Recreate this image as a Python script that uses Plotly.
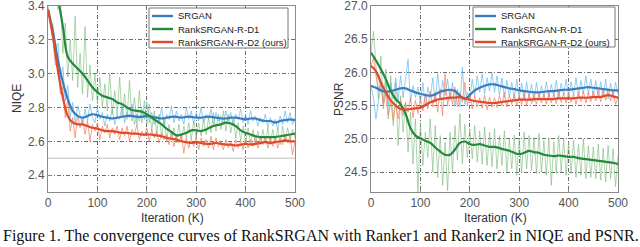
import plotly.graph_objects as go

# ---------------- data ----------------
ITER_SMOOTH = list(range(0, 501, 10))
ITER_RAW = list(range(0, 501, 5))

NIQE_SRGAN = [3.38, 3.25, 3.08, 2.95, 2.85, 2.78, 2.75, 2.74, 2.75, 2.76,
              2.755, 2.745, 2.74, 2.735, 2.74, 2.745, 2.75, 2.75, 2.745, 2.745,
              2.75, 2.745, 2.74, 2.735, 2.74, 2.745, 2.745, 2.74, 2.745, 2.745,
              2.74, 2.74, 2.745, 2.745, 2.74, 2.735, 2.735, 2.74, 2.74, 2.735,
              2.73, 2.735, 2.735, 2.725, 2.72, 2.72, 2.71, 2.72, 2.725, 2.73,
              2.725]
NIQE_D1 = [3.75, 3.6, 3.45, 3.28, 3.10, 3.06, 3.03, 3.0, 2.96, 2.92,
           2.89, 2.87, 2.86, 2.85, 2.83, 2.82, 2.80, 2.785, 2.78, 2.775,
           2.76, 2.74, 2.72, 2.70, 2.675, 2.655, 2.635, 2.64, 2.65, 2.665,
           2.665, 2.66, 2.67, 2.685, 2.695, 2.70, 2.71, 2.705, 2.69, 2.665,
           2.65, 2.64, 2.63, 2.625, 2.625, 2.625, 2.625, 2.63, 2.635, 2.64,
           2.645]
NIQE_D2 = [3.38, 3.22, 3.02, 2.86, 2.75, 2.71, 2.70, 2.70, 2.69, 2.68,
           2.675, 2.665, 2.66, 2.66, 2.655, 2.65, 2.65, 2.645, 2.645, 2.64,
           2.64, 2.64, 2.635, 2.63, 2.62, 2.615, 2.61, 2.60, 2.595, 2.59,
           2.595, 2.59, 2.585, 2.585, 2.59, 2.585, 2.58, 2.58, 2.575, 2.58,
           2.585, 2.58, 2.585, 2.59, 2.595, 2.59, 2.595, 2.60, 2.605, 2.60,
           2.60]

NIQE_SRGAN_RAW = [3.40, 3.31, 3.29, 3.12, 3.18, 2.97, 3.04, 2.84, 2.93, 2.74,
                  2.83, 2.70, 2.81, 2.76, 2.70, 2.79, 2.72, 2.82, 2.74, 2.71,
                  2.80, 2.73, 2.77, 2.69, 2.76, 2.72, 2.79, 2.70, 2.75, 2.73,
                  2.81, 2.71, 2.77, 2.74, 2.82, 2.70, 2.76, 2.72, 2.79, 2.73,
                  2.83, 2.71, 2.77, 2.70, 2.75, 2.72, 2.80, 2.69, 2.76, 2.73,
                  2.81, 2.71, 2.78, 2.72, 2.76, 2.70, 2.80, 2.73, 2.78, 2.70,
                  2.77, 2.72, 2.80, 2.71, 2.76, 2.73, 2.79, 2.70, 2.77, 2.72,
                  2.75, 2.70, 2.78, 2.72, 2.77, 2.69, 2.76, 2.73, 2.79, 2.71,
                  2.76, 2.70, 2.78, 2.72, 2.75, 2.69, 2.74, 2.71, 2.76, 2.68,
                  2.74, 2.69, 2.73, 2.67, 2.75, 2.70, 2.78, 2.71, 2.77, 2.70,
                  2.74]
NIQE_D1_RAW = [3.80, 3.70, 3.55, 3.48, 3.38, 3.46, 3.12, 3.30, 2.98, 3.20,
               2.96, 3.34, 2.92, 3.12, 2.88, 3.28, 2.86, 3.05, 2.84, 3.00,
               2.82, 2.98, 2.80, 2.94, 2.78, 3.00, 2.76, 2.90, 2.75, 2.98,
               2.74, 2.88, 2.73, 2.96, 2.72, 2.86, 2.70, 2.90, 2.71, 2.84,
               2.70, 2.82, 2.66, 2.78, 2.64, 2.76, 2.62, 2.74, 2.60, 2.70,
               2.61, 2.68, 2.59, 2.70, 2.60, 2.69, 2.62, 2.71, 2.61, 2.72,
               2.62, 2.71, 2.63, 2.73, 2.64, 2.74, 2.65, 2.77, 2.66, 2.76,
               2.67, 2.78, 2.66, 2.76, 2.65, 2.74, 2.62, 2.71, 2.60, 2.69,
               2.59, 2.68, 2.58, 2.67, 2.59, 2.66, 2.58, 2.67, 2.59, 2.68,
               2.58, 2.67, 2.59, 2.68, 2.58, 2.69, 2.60, 2.68, 2.61, 2.67,
               2.62]
NIQE_D2_RAW = [3.38, 3.28, 3.20, 3.05, 3.08, 2.88, 2.92, 2.74, 2.85, 2.66,
               2.74, 2.62, 2.76, 2.68, 2.73, 2.64, 2.72, 2.60, 2.70, 2.66,
               2.71, 2.61, 2.69, 2.65, 2.70, 2.62, 2.68, 2.64, 2.69, 2.61,
               2.68, 2.63, 2.69, 2.60, 2.67, 2.64, 2.70, 2.61, 2.66, 2.63,
               2.68, 2.60, 2.67, 2.62, 2.66, 2.59, 2.65, 2.61, 2.64, 2.58,
               2.65, 2.57, 2.63, 2.59, 2.64, 2.53, 2.62, 2.56, 2.61, 2.57,
               2.63, 2.55, 2.62, 2.57, 2.61, 2.56, 2.63, 2.55, 2.62, 2.57,
               2.60, 2.55, 2.61, 2.56, 2.60, 2.54, 2.61, 2.56, 2.60, 2.55,
               2.62, 2.56, 2.61, 2.57, 2.63, 2.56, 2.62, 2.58, 2.63, 2.56,
               2.62, 2.57, 2.63, 2.56, 2.62, 2.58, 2.64, 2.59, 2.63, 2.52,
               2.60]

PSNR_SRGAN = [25.80, 25.77, 25.73, 25.71, 25.72, 25.74, 25.76, 25.76, 25.73, 25.70,
              25.68, 25.66, 25.65, 25.67, 25.71, 25.73, 25.74, 25.72, 25.65, 25.60,
              25.66, 25.73, 25.77, 25.80, 25.82, 25.82, 25.80, 25.78, 25.76, 25.75,
              25.73, 25.72, 25.71, 25.70, 25.70, 25.71, 25.72, 25.72, 25.73, 25.74,
              25.74, 25.75, 25.76, 25.77, 25.78, 25.77, 25.76, 25.75, 25.74, 25.73,
              25.73]
PSNR_D1 = [26.30, 26.18, 26.05, 25.90, 25.72, 25.60, 25.52, 25.38, 25.16, 25.05,
           25.01, 24.97, 24.94, 24.87, 24.81, 24.76, 24.76, 24.84, 24.94, 24.96,
           24.92, 24.91, 24.92, 24.90, 24.88, 24.88, 24.86, 24.84, 24.82, 24.79,
           24.77, 24.79, 24.82, 24.80, 24.79, 24.76, 24.75, 24.74, 24.75, 24.74,
           24.73, 24.73, 24.71, 24.70, 24.69, 24.68, 24.67, 24.66, 24.65, 24.64,
           24.62]
PSNR_D2 = [26.10, 26.02, 25.85, 25.70, 25.58, 25.50, 25.45, 25.44, 25.45, 25.46,
           25.47, 25.51, 25.55, 25.58, 25.60, 25.61, 25.62, 25.62, 25.63, 25.61,
           25.59, 25.57, 25.56, 25.55, 25.54, 25.54, 25.55, 25.56, 25.57, 25.58,
           25.59, 25.59, 25.59, 25.60, 25.60, 25.60, 25.60, 25.60, 25.61, 25.61,
           25.61, 25.61, 25.62, 25.62, 25.62, 25.63, 25.63, 25.64, 25.66, 25.64,
           25.62]

PSNR_SRGAN_RAW = [25.80, 25.62, 25.30, 25.58, 25.82, 25.55, 25.88, 25.50, 25.85, 25.60,
                  25.92, 25.58, 25.95, 25.62, 25.88, 26.20, 25.55, 25.80, 25.62, 25.78,
                  25.55, 25.85, 25.48, 25.78, 25.62, 25.92, 25.55, 25.98, 25.60, 25.88,
                  25.65, 25.90, 25.58, 25.85, 25.50, 25.75, 25.48, 26.08, 25.52, 25.70,
                  25.60, 25.90, 25.65, 25.95, 25.70, 25.98, 25.68, 25.92, 25.72, 26.00,
                  25.70, 25.95, 25.66, 25.92, 25.62, 25.88, 25.64, 25.85, 25.60, 25.90,
                  25.62, 25.84, 25.58, 25.86, 25.60, 25.82, 25.56, 25.85, 25.60, 25.80,
                  25.62, 25.86, 25.60, 25.82, 25.64, 25.88, 25.62, 25.84, 25.66, 25.90,
                  25.64, 25.86, 25.66, 25.92, 25.65, 25.88, 25.68, 25.95, 25.66, 25.90,
                  25.64, 25.88, 25.62, 25.86, 25.63, 25.90, 25.60, 25.84, 25.62, 25.85,
                  25.68]
PSNR_D1_RAW = [26.30, 26.62, 26.10, 25.60, 26.25, 25.45, 26.05, 25.30, 25.95, 25.20,
               25.85, 24.90, 25.65, 25.10, 25.55, 24.80, 25.40, 24.62, 25.30, 24.20,
               25.25, 24.60, 25.10, 24.72, 25.30, 24.50, 25.20, 24.42, 25.05, 24.30,
               24.95, 24.22, 25.10, 24.50, 25.20, 24.68, 25.38, 24.62, 25.22, 24.72,
               25.15, 24.70, 25.20, 24.65, 25.12, 24.62, 25.18, 24.60, 25.10, 24.58,
               25.15, 24.55, 25.05, 24.60, 25.12, 24.50, 25.00, 24.55, 25.06, 24.45,
               25.00, 24.50, 25.10, 24.55, 25.05, 24.52, 25.02, 24.48, 25.08, 24.50,
               24.98, 24.45, 25.02, 24.30, 24.95, 24.48, 25.05, 24.50, 25.00, 24.45,
               24.95, 24.48, 24.98, 24.42, 24.92, 24.45, 25.00, 24.40, 24.90, 24.42,
               24.88, 24.40, 24.92, 24.38, 24.86, 24.35, 24.90, 24.40, 24.85, 24.28,
               24.75]
PSNR_D2_RAW = [26.10, 26.22, 25.95, 25.75, 25.82, 25.50, 25.68, 25.35, 25.55, 25.28,
               25.52, 25.30, 25.58, 25.35, 25.55, 25.40, 25.62, 25.32, 25.58, 25.38,
               25.60, 25.42, 25.68, 25.45, 25.72, 25.48, 25.70, 25.40, 25.75, 25.35,
               25.98, 25.50, 25.72, 25.52, 25.78, 25.48, 25.70, 25.55, 25.85, 25.50,
               25.68, 25.45, 25.65, 25.48, 25.62, 25.46, 25.66, 25.44, 25.63, 25.48,
               25.62, 25.47, 25.65, 25.50, 25.70, 25.48, 25.66, 25.52, 25.68, 25.50,
               25.66, 25.52, 25.70, 25.50, 25.68, 25.53, 25.67, 25.52, 25.69, 25.54,
               25.68, 25.52, 25.70, 25.54, 25.68, 25.53, 25.72, 25.55, 25.69, 25.54,
               25.70, 25.55, 25.68, 25.52, 25.71, 25.56, 25.72, 25.54, 25.70, 25.56,
               25.72, 25.57, 25.73, 25.56, 25.74, 25.58, 25.76, 25.57, 25.72, 25.52,
               25.62]

SERIES_NAMES = ["SRGAN", "RankSRGAN-R-D1", "RankSRGAN-R-D2 (ours)"]
X_TICKS = [0, 100, 200, 300, 400, 500]
NIQE_TICKS = [2.4, 2.6, 2.8, 3.0, 3.2, 3.4]
PSNR_TICKS = [24.5, 25.0, 25.5, 26.0, 26.5, 27.0]
NIQE_REF = 2.5
CAPTION = "Figure 1. The convergence curves of RankSRGAN with Ranker1 and Ranker2 in NIQE and PSNR."

# ---------------- style ----------------
DARK = ["#3a7dbf", "#238a3c", "#de4a2a"]
LIGHT = ["rgba(110,190,240,0.75)", "rgba(120,185,120,0.6)", "rgba(245,130,100,0.75)"]
SANS = "Liberation Sans, Arial"

W, H = 640, 247
ml, mr, mt, mb = 48, 22, 6, 55
pw = W - ml - mr
ph = H - mt - mb


def px(x):
    return (x - ml) / pw


def py(y):
    return 1 - (y - mt) / ph


fig = go.Figure()

panels = [
    ("x", "y", [NIQE_SRGAN_RAW, NIQE_D1_RAW, NIQE_D2_RAW], [NIQE_SRGAN, NIQE_D1, NIQE_D2]),
    ("x2", "y2", [PSNR_SRGAN_RAW, PSNR_D1_RAW, PSNR_D2_RAW], [PSNR_SRGAN, PSNR_D1, PSNR_D2]),
]
for xa, ya, raws, smooths in panels:
    for i, r in enumerate(raws):
        fig.add_trace(go.Scatter(x=ITER_RAW, y=r, mode="lines", xaxis=xa, yaxis=ya,
                                 line=dict(color=LIGHT[i], width=1), showlegend=False,
                                 hoverinfo="skip"))
    for i, s in enumerate(smooths):
        fig.add_trace(go.Scatter(x=ITER_SMOOTH, y=s, mode="lines", xaxis=xa, yaxis=ya,
                                 name=SERIES_NAMES[i], showlegend=False,
                                 line=dict(color=DARK[i], width=2.2, shape="spline")))

fig.add_trace(go.Scatter(x=[X_TICKS[0], X_TICKS[-1]], y=[NIQE_REF, NIQE_REF], mode="lines",
                         xaxis="x", yaxis="y", line=dict(color="#d4d4d4", width=1.5),
                         showlegend=False, hoverinfo="skip"))

grid = dict(showgrid=True, gridcolor="rgba(60,60,60,0.75)", gridwidth=1,
            griddash="4px,2px,1px,2px", showline=True, linecolor="#8a8a8a",
            linewidth=1, mirror=True, zeroline=False, ticks="inside", ticklen=3,
            tickcolor="#8a8a8a", automargin=False, ticklabeloverflow="allow",
            tickfont=dict(family=SANS, size=12, color="#555"))

fig.update_layout(
    width=W, height=H, margin=dict(l=ml, r=mr, t=mt, b=mb),
    paper_bgcolor="white", plot_bgcolor="white", showlegend=False,
    xaxis=dict(domain=[0, px(295)], range=[0, 500], tickvals=X_TICKS, anchor="y", **grid),
    yaxis=dict(domain=[0, 1], range=[2.3, 3.4005], tickvals=NIQE_TICKS, tickformat=".1f",
               anchor="x", **grid),
    xaxis2=dict(domain=[px(371), 1], range=[0, 500], tickvals=X_TICKS, anchor="y2", **grid),
    yaxis2=dict(domain=[0, 1], range=[24.2, 27.001], tickvals=PSNR_TICKS, tickformat=".1f",
                anchor="x2", **grid),
)

title_font = dict(family=SANS, size=12, color="#333")
# axis titles
for cx, cy, txt, ang in [(172, 218, "Iteration (K)", 0), (495, 218, "Iteration (K)", 0),
                         (17, 99, "NIQE", -90), (339, 99, "PSNR", -90)]:
    fig.add_annotation(text=txt, xref="paper", yref="paper", x=px(cx), y=py(cy),
                       xanchor="center", yanchor="middle", showarrow=False,
                       textangle=ang, font=title_font)

# legends (drawn box, sample lines and labels)
for (bx0, bx1, by0, by1, lx0, lx1, tx) in [(149, 288, 8, 48, 152, 173, 176),
                                          (473, 615, 7, 47, 475, 496, 499)]:
    fig.add_shape(type="rect", xref="paper", yref="paper", x0=px(bx0), x1=px(bx1),
                  y0=py(by1), y1=py(by0), fillcolor="white",
                  line=dict(color="#777", width=1), layer="above")
    for i, name in enumerate(SERIES_NAMES):
        ry = 16 + 13 * i
        fig.add_shape(type="line", xref="paper", yref="paper", x0=px(lx0), x1=px(lx1),
                      y0=py(ry), y1=py(ry), line=dict(color=DARK[i], width=2.4), layer="above")
        fig.add_annotation(text=name, xref="paper", yref="paper", x=px(tx), y=py(ry),
                           xanchor="left", yanchor="middle", showarrow=False,
                           font=dict(family=SANS, size=9.5, color="#222"))

fig.add_annotation(text=CAPTION, xref="paper", yref="paper", x=px(321), y=py(236),
                   xanchor="center", yanchor="middle", showarrow=False,
                   font=dict(family="Liberation Serif, Times New Roman", size=16, color="#111"))

fig.write_html("out.html", config={"displayModeBar": False},
               post_script="document.body.style.margin='0';"
                           "document.body.style.overflow='hidden';")
